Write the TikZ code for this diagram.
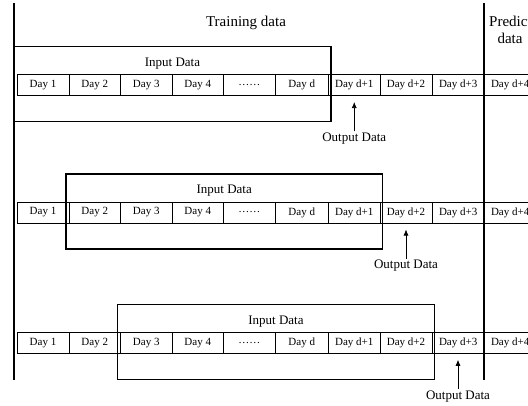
\documentclass[tikz,border=0pt]{standalone}
\usepackage{fontspec}
\setmainfont{Liberation Serif}
\usetikzlibrary{arrows.meta}
\begin{document}
\begin{tikzpicture}[x=1pt,y=-1pt,
  cell/.style={draw, line width=0.6pt, inner sep=0pt, minimum height=21pt, font=\fontsize{11}{11}\selectfont},
  inbox/.style={draw, line width=1.1pt, inner sep=0pt},
  sepline/.style={line width=2pt},
  lbl/.style={inner sep=1.5pt, font=\fontsize{13}{13}\selectfont},
  head/.style={inner sep=0pt, font=\fontsize{15}{15}\selectfont},
  outarrow/.style={line width=0.7pt, -{Latex[length=6pt,width=5pt]}}
]
\useasboundingbox (0,0) rectangle (528,405);
\clip (0,0) rectangle (528,405);

% separators
\coordinate (lt) at (13.5,3);
\coordinate (lb) at (13.5,380);
\coordinate (rt) at (484.3,3);
\coordinate (rb) at (484.3,380);
\draw[sepline] (lt) -- (lb);
\draw[sepline] (rt) -- (rb);

\node[head] (train) at (246,23) {Training data};
\node[head, anchor=west] (pred) at (489,21) {Prediction};
\node[head] (preddata) at (510,38) {data};

% rows
\foreach \r/\yt/\bl/\br/\ox in {1/74.5/14/331/354.25, 2/202/66/382.5/406, 3/332.3/117.5/434.5/458}{
  \foreach \a/\b/\t [count=\k] in {17/69/Day 1, 69/120.5/Day 2, 120.5/172/Day 3, 172/223.5/Day 4,
      223.5/275/……, 275/328.5/Day d, 328.5/380/Day d+1, 380/432/Day d+2, 432/484.3/Day d+3, 484.3/536/Day d+4}{
    \node[cell, minimum width={(\b-\a)*1pt}] (c\r-\k) at ({(\a+\b)/2}, \yt+10.5) {\t};
  }
  \node[inbox, minimum width={(\br-\bl)*1pt}, minimum height=75pt] (box\r) at ({(\bl+\br)/2}, \yt+9.5) {};
  \node[lbl] (in\r) at ({(\bl+\br)/2}, \yt-11) {Input Data};
  \node[lbl] (out\r) at (\ox, \yt+64) {Output Data};
  \coordinate (tip\r) at (\ox, \yt+27.5);
  \draw[outarrow] (out\r.north) -- (tip\r);
}
\end{tikzpicture}
\end{document}
